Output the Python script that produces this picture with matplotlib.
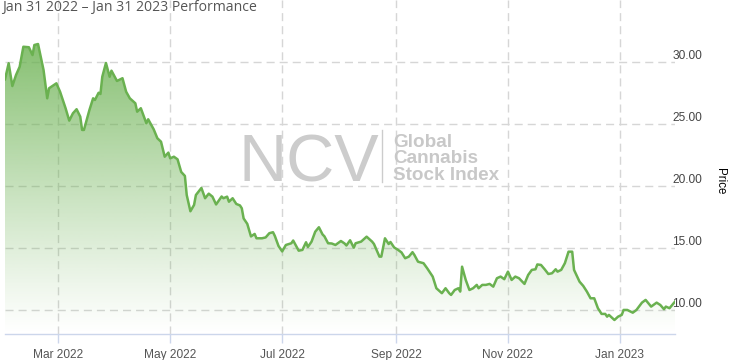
"""NCV Global Cannabis Stock Index - one year performance chart."""
import matplotlib
matplotlib.use('Agg')
import matplotlib.pyplot as plt
import matplotlib.dates as mdates
from matplotlib.colors import to_rgb
from matplotlib.lines import Line2D
import numpy as np
import pandas as pd

# Data (days after Jan 31 2022, index price)
start_date = '2022-01-31'
day_offsets = [
    0, 2, 4, 6, 8, 10, 13, 15, 16, 18,
    21, 23, 24, 28, 30, 33, 35, 37, 39, 41,
    42, 43, 46, 48, 49, 51, 52, 53, 55, 57,
    58, 61, 64, 66, 68, 71, 72, 74, 77, 78,
    81, 83, 85, 87, 89, 90, 92, 94, 96, 98,
    99, 101, 103, 104, 107, 109, 111, 113, 115, 118,
    119, 121, 122, 124, 126, 128, 129, 130, 132, 134,
    136, 137, 140, 142, 144, 146, 147, 149, 151, 153,
    156, 157, 160, 162, 164, 165, 167, 169, 171, 173,
    174, 176, 178, 180, 183, 185, 186, 188, 190, 191,
    194, 197, 200, 201, 204, 205, 207, 209, 210, 212,
    214, 216, 218, 220, 222, 223, 225, 228, 230, 233,
    235, 238, 240, 242, 243, 245, 247, 248, 249, 251,
    253, 255, 257, 258, 260, 262, 264, 266, 268, 270,
    272, 274, 276, 278, 280, 283, 285, 287, 289, 290,
    292, 294, 296, 298, 300, 301, 303, 305, 307, 309,
    310, 313, 315, 317, 319, 321, 323, 325, 327, 328,
    329, 332, 334, 336, 337, 339, 342, 344, 347, 349,
    352, 355, 357, 359, 360, 362, 365,
]
prices = [
    28.60, 29.90, 28.06, 28.95, 29.62, 31.23, 31.19, 30.56, 31.37, 31.45,
    29.35, 27.07, 27.88, 28.28, 27.60, 26.27, 25.27, 25.86, 26.19, 25.59,
    24.52, 24.52, 26.13, 27.07, 26.94, 27.52, 27.42, 28.81, 29.92, 28.81,
    29.30, 28.47, 28.69, 27.60, 27.07, 26.67, 25.99, 26.27, 25.06, 25.38,
    24.57, 23.85, 23.57, 22.36, 22.69, 22.23, 22.36, 22.15, 21.13, 20.81,
    19.27, 17.96, 18.47, 19.27, 19.84, 19.01, 19.38, 19.14, 18.51, 19.15,
    19.01, 19.14, 18.73, 19.01, 18.55, 18.43, 18.20, 17.38, 16.94, 15.93,
    16.13, 15.78, 15.78, 15.85, 16.19, 16.27, 15.97, 15.16, 14.72, 15.24,
    15.38, 15.60, 14.78, 14.84, 15.46, 15.08, 15.51, 16.31, 16.67, 16.09,
    15.94, 15.38, 15.36, 15.24, 15.56, 15.36, 15.20, 15.62, 15.02, 15.38,
    15.51, 15.91, 15.51, 15.32, 14.30, 14.30, 15.78, 15.32, 15.48, 15.04,
    14.86, 14.64, 14.17, 14.30, 14.66, 14.44, 13.89, 13.77, 13.36, 12.69,
    11.75, 11.35, 11.75, 11.35, 11.21, 11.61, 11.75, 11.48, 13.49, 12.42,
    11.61, 11.75, 12.02, 11.75, 12.02, 12.02, 12.10, 11.88, 12.56, 12.69,
    12.48, 13.09, 12.42, 12.69, 12.56, 12.10, 12.82, 13.23, 13.28, 13.67,
    13.63, 13.28, 12.90, 12.96, 13.28, 13.09, 13.23, 13.77, 14.70, 14.70,
    13.23, 12.28, 11.94, 11.48, 10.94, 10.94, 10.14, 9.68, 9.68, 9.46,
    9.60, 9.19, 9.46, 9.60, 10.00, 10.00, 9.78, 10.00, 10.59, 10.81,
    10.27, 10.59, 10.40, 10.06, 10.27, 10.14, 10.67,
]
y_ticks = [10, 15, 20, 25, 30]

title = 'Jan 31 2022 \u2013 Jan 31 2023 Performance'

line_color = '#6ab150'
grid_color = '#d6d6d6'
axis_color = '#ccd6eb'

plt.rcParams['font.family'] = ['Liberation Sans', 'DejaVu Sans']
plt.rcParams['lines.scale_dashes'] = False

dates = pd.to_datetime(start_date) + pd.to_timedelta(day_offsets, unit='D')
x = mdates.date2num(dates)

W, H = 734, 360
fig = plt.figure(figsize=(W / 100, H / 100), dpi=100)
ax = fig.add_axes([5 / W, 26 / H, 670 / W, 334 / H])

y_min, y_max = 8.06, 35.0
ax.set_xlim(x[0], x[-1])
ax.set_ylim(y_min, y_max)

# Gradient area under the line
fill = ax.fill_between(x, prices, y_min, color='none', linewidth=0)
rgb = to_rgb(line_color)
n = 256
grad = np.zeros((n, 1, 4))
grad[:, 0, :3] = rgb
grad[:, 0, 3] = np.linspace(0.95, 0.0, n) ** 1.1
img = ax.imshow(grad, aspect='auto', extent=[x[0], x[-1], y_min, y_max],
                origin='upper', zorder=1, interpolation='bilinear')
img.set_clip_path(fill.get_paths()[0], transform=ax.transData)

ax.plot(x, prices, color=line_color, linewidth=1.8, zorder=3,
        solid_joinstyle='round')

# Grid lines
dash = (0, (5.8, 3.6))
ax.set_yticks(y_ticks)
ax.xaxis.set_major_locator(mdates.MonthLocator(bymonth=[1, 3, 5, 7, 9, 11]))
ax.xaxis.set_major_formatter(mdates.DateFormatter('%b %Y'))
ax.grid(True, color=grid_color, linestyle=dash, linewidth=1.0)
ax.set_axisbelow(True)

for side in ['left', 'right', 'top']:
    ax.spines[side].set_visible(False)
ax.spines['bottom'].set_color(axis_color)
ax.spines['bottom'].set_linewidth(1.0)

ax.tick_params(axis='x', colors=axis_color, length=6.5, width=1.0,
               labelcolor='#555555', labelsize=8.6, pad=4)
ax.yaxis.tick_right()
ax.tick_params(axis='y', length=0, labelcolor='#444444', labelsize=8.6,
               pad=-2)
ax.set_yticklabels([f'{v:.2f}' for v in y_ticks])
for lab in ax.get_yticklabels():
    lab.set_verticalalignment('bottom')

# Watermark
wm_color = '#cccccc'
fig.text(239 / W, 1 - 182 / H, 'NCV', fontsize=48, color=wm_color,
         va='baseline', ha='left')
fig.add_artist(Line2D([382 / W, 382 / W], [1 - 130 / H, 1 - 182 / H],
                      transform=fig.transFigure, color=wm_color, linewidth=1))
for txt, base in [('Global', 147), ('Cannabis', 163), ('Stock Index', 180)]:
    fig.text(393 / W, 1 - base / H, txt, fontsize=13.6, fontweight='bold',
             color='#c8c8c8', va='baseline', ha='left')

# Title and axis title
fig.text(2 / W, 1 - 8 / H, title, fontsize=10.1, color='#555555',
         family=['Open Sans', 'DejaVu Sans'], va='center', ha='left')
fig.text(720 / W, 1 - 181 / H, 'Price', fontsize=8.3, color='#000000',
         rotation=270, va='center', ha='center')

fig.savefig('out.png', dpi=100, facecolor='white')
plt.close(fig)
